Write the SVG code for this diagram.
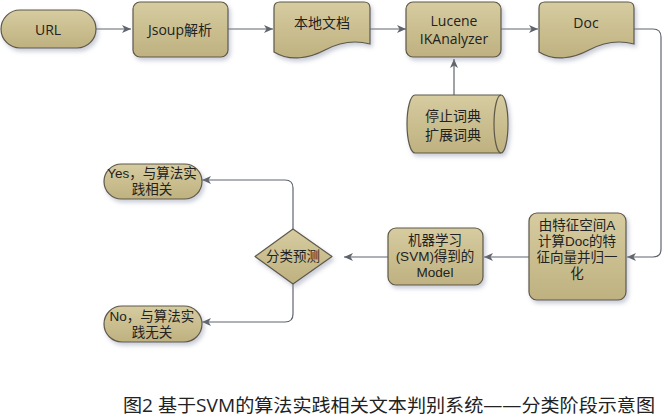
<svg xmlns="http://www.w3.org/2000/svg" width="663" height="419" viewBox="0 0 663 419">
<style>
.n{fill:url(#g);stroke:#5e5848;stroke-width:1.2;filter:url(#sh)}
.t{font-family:"Open Sans","Noto Sans CJK SC",sans-serif;font-size:14px;fill:#222;text-anchor:middle;dominant-baseline:central}
.m{font-family:"Liberation Sans","Noto Sans CJK SC",sans-serif;font-size:13.5px}
.c{fill:none;stroke:#5f646c;stroke-width:1.2;marker-end:url(#a)}
.cap{font-family:"Open Sans","Noto Sans CJK SC",sans-serif;font-size:18px;fill:#222}
</style>
<defs>
<linearGradient id="g" x1="0" y1="0" x2="0" y2="1">
<stop offset="0" stop-color="#d6cca0"/>
<stop offset="1" stop-color="#bfb180"/>
</linearGradient>
<filter id="sh" x="-20%" y="-20%" width="140%" height="150%">
<feDropShadow dx="2" dy="3" stdDeviation="2" flood-color="#8a90a8" flood-opacity="0.45"/>
</filter>
<marker id="a" markerWidth="10" markerHeight="8" refX="9" refY="4" orient="auto" markerUnits="userSpaceOnUse">
<path d="M0,0 L9,4 L0,8 L2.5,4 Z" fill="#5f646c"/>
</marker>
</defs>
<g id="connectors">
<path class="c" d="M96,29 H131"/>
<path class="c" d="M228,29 H273"/>
<path class="c" d="M370,29 H406"/>
<path class="c" d="M501,29 H538"/>
<path class="c" d="M634,29 H653 Q661,29 661,37 V249 Q661,257 653,257 H627"/>
<path class="c" d="M454,95 V59"/>
<path class="c" d="M529,257 H484"/>
<path class="c" d="M388,257 H344"/>
<path class="c" d="M293,229 V188 Q293,180 285,180 H202"/>
<path class="c" d="M293,284 V314 Q293,322 285,322 H202"/>
</g>
<g id="url"><rect class="n" x="1" y="10" width="95" height="38" rx="19"/><text class="t" x="48" y="29">URL</text></g>
<g id="jsoup"><rect class="n" x="133" y="2" width="95" height="55" rx="7"/><text class="t" x="180" y="29">Jsoup解析</text></g>
<g id="local"><path class="n" d="M274,8 Q274,2 280,2 H364 Q370,2 370,8 V44 C355,40 340,42 325,50 C310,58 290,62 274,52 Z"/><text class="t" x="322" y="22">本地文档</text></g>
<g id="lucene"><rect class="n" x="406" y="2" width="95" height="55" rx="7"/><text class="t" x="454" y="20">Lucene<tspan x="454" dy="18">IKAnalyzer</tspan></text></g>
<g id="doc"><path class="n" d="M539,8 Q539,2 545,2 H628 Q634,2 634,8 V44 C619,40 604,42 589,50 C574,58 555,62 539,52 Z"/><text class="t" x="586" y="22">Doc</text></g>
<g id="dict"><path class="n" d="M415,95 H501 A7,29 0 0 1 501,153 H415 A8,29 0 0 1 415,95 Z"/><path d="M501,95 A7,29 0 0 0 501,153" fill="none" stroke="#5e5848" stroke-width="1.2"/><text class="t" x="453" y="115">停止词典<tspan x="453" dy="19">扩展词典</tspan></text></g>
<g id="feature"><rect class="n" x="529" y="213" width="97" height="87" rx="8"/><text class="t m" x="577" y="225">由特征空间A<tspan x="577" dy="16">计算Doc的特</tspan><tspan x="577" dy="16">征向量并归一</tspan><tspan x="577" dy="16">化</tspan></text></g>
<g id="model"><rect class="n" x="388" y="228" width="95" height="57" rx="8"/><text class="t m" x="435" y="240">机器学习<tspan x="435" dy="16">(SVM)得到的</tspan><tspan x="435" dy="16">Model</tspan></text></g>
<g id="predict"><path class="n" d="M293,229 L332,256.5 L293,284 L255,256.5 Z" stroke-linejoin="round"/><text class="t m" x="293" y="256">分类预测</text></g>
<g id="yes"><rect class="n" x="104" y="164" width="98" height="35" rx="17.5"/><text class="t m" x="152" y="173">Yes，与算法实<tspan x="152" dy="16">践相关</tspan></text></g>
<g id="no"><rect class="n" x="104" y="306" width="98" height="36" rx="18"/><text class="t m" x="152" y="316">No，与算法实<tspan x="152" dy="16">践无关</tspan></text></g>
<text class="cap" x="123" y="412" textLength="532" lengthAdjust="spacingAndGlyphs">图2 基于SVM的算法实践相关文本判别系统——分类阶段示意图</text>
</svg>
